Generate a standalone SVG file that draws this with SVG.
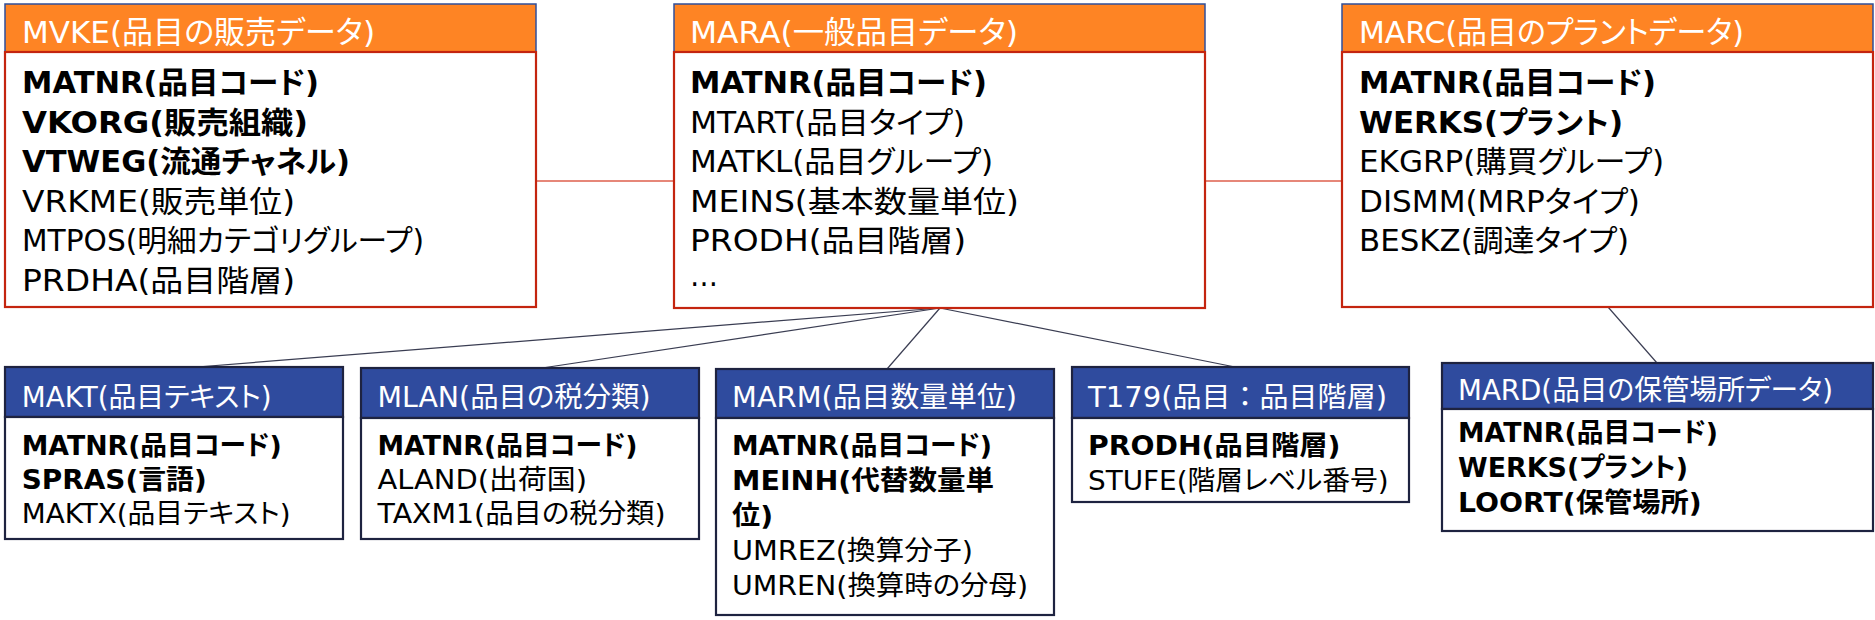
<svg xmlns="http://www.w3.org/2000/svg" width="1875" height="620" viewBox="0 0 1875 620">
<style>
text{font-family:"DejaVu Sans","Noto Sans CJK JP",sans-serif;font-feature-settings:"palt";}
.uh{fill:#FE8424;stroke:#2F4F9A;stroke-width:1.5;}
.ub{fill:#FFFFFF;stroke:#C4250F;stroke-width:2.2;}
.lh{fill:#2F4B9E;stroke:#1E2340;stroke-width:2.2;}
.lb{fill:#FFFFFF;stroke:#1E2340;stroke-width:2.2;}
.ht{fill:#FFFFFF;font-size:31px;}
.lht{fill:#FFFFFF;font-size:28px;}
.t{fill:#000000;font-size:30px;}
.lt{fill:#000000;font-size:27px;}
.b{font-weight:bold;}
.np{font-feature-settings:normal;}
.rc{stroke:#DE5F4C;stroke-width:1.5;fill:none;}
.dc{stroke:#3A3D52;stroke-width:1.2;fill:none;}
</style>
<g id="connectors">
<line class="rc" x1="536" y1="181" x2="674" y2="181"/>
<line class="rc" x1="1205" y1="181" x2="1342" y2="181"/>
<line class="dc" x1="940" y1="308" x2="197" y2="367"/>
<line class="dc" x1="940" y1="308" x2="542" y2="368"/>
<line class="dc" x1="940" y1="308" x2="887" y2="369"/>
<line class="dc" x1="940" y1="308" x2="1235" y2="367"/>
<line class="dc" x1="1608" y1="307" x2="1657" y2="363"/>
</g>
<g id="MVKE">
<rect class="uh" x="5" y="4" width="531" height="48"/>
<rect class="ub" x="5" y="52" width="531" height="255"/>
<text class="ht" x="22" y="43" textLength="353" lengthAdjust="spacingAndGlyphs">MVKE(品目の販売データ)</text>
<text class="t b" x="22" y="93" textLength="297" lengthAdjust="spacingAndGlyphs">MATNR(品目コード)</text>
<text class="t b" x="22" y="132.5" textLength="286" lengthAdjust="spacingAndGlyphs">VKORG(販売組織)</text>
<text class="t b" x="22" y="172" textLength="328" lengthAdjust="spacingAndGlyphs">VTWEG(流通チャネル)</text>
<text class="t" x="22" y="211.5" textLength="273" lengthAdjust="spacingAndGlyphs">VRKME(販売単位)</text>
<text class="t" x="22" y="251" textLength="402" lengthAdjust="spacingAndGlyphs">MTPOS(明細カテゴリグループ)</text>
<text class="t" x="22" y="290.5" textLength="273" lengthAdjust="spacingAndGlyphs">PRDHA(品目階層)</text>
</g>
<g id="MARA">
<rect class="uh" x="674" y="4" width="531" height="48"/>
<rect class="ub" x="674" y="52" width="531" height="256"/>
<text class="ht" x="690" y="43" textLength="328" lengthAdjust="spacingAndGlyphs">MARA(一般品目データ)</text>
<text class="t b" x="690" y="93" textLength="297" lengthAdjust="spacingAndGlyphs">MATNR(品目コード)</text>
<text class="t" x="690" y="132.5" textLength="275" lengthAdjust="spacingAndGlyphs">MTART(品目タイプ)</text>
<text class="t" x="690" y="172" textLength="303" lengthAdjust="spacingAndGlyphs">MATKL(品目グループ)</text>
<text class="t" x="690" y="211.5" textLength="329" lengthAdjust="spacingAndGlyphs">MEINS(基本数量単位)</text>
<text class="t" x="690" y="251" textLength="276" lengthAdjust="spacingAndGlyphs">PRODH(品目階層)</text>
<text class="t" x="690" y="286" textLength="28" lengthAdjust="spacingAndGlyphs">…</text>
</g>
<g id="MARC">
<rect class="uh" x="1342" y="4" width="531" height="48"/>
<rect class="ub" x="1342" y="52" width="531" height="255"/>
<text class="ht" x="1359" y="43" textLength="385" lengthAdjust="spacingAndGlyphs">MARC(品目のプラントデータ)</text>
<text class="t b" x="1359" y="93" textLength="297" lengthAdjust="spacingAndGlyphs">MATNR(品目コード)</text>
<text class="t b" x="1359" y="132.5" textLength="264" lengthAdjust="spacingAndGlyphs">WERKS(プラント)</text>
<text class="t" x="1359" y="172" textLength="305" lengthAdjust="spacingAndGlyphs">EKGRP(購買グループ)</text>
<text class="t" x="1359" y="211.5" textLength="281" lengthAdjust="spacingAndGlyphs">DISMM(MRPタイプ)</text>
<text class="t" x="1359" y="251" textLength="270" lengthAdjust="spacingAndGlyphs">BESKZ(調達タイプ)</text>
</g>
<g id="MAKT">
<rect class="lh" x="5" y="367" width="338" height="50"/>
<rect class="lb" x="5" y="417" width="338" height="122"/>
<text class="lht" x="21.7" y="406.5" textLength="250" lengthAdjust="spacingAndGlyphs">MAKT(品目テキスト)</text>
<text class="lt b" x="21.7" y="455" textLength="260" lengthAdjust="spacingAndGlyphs">MATNR(品目コード)</text>
<text class="lt b" x="21.7" y="489" textLength="185" lengthAdjust="spacingAndGlyphs">SPRAS(言語)</text>
<text class="lt" x="21.7" y="523" textLength="269" lengthAdjust="spacingAndGlyphs">MAKTX(品目テキスト)</text>
</g>
<g id="MLAN">
<rect class="lh" x="361" y="368" width="338" height="50"/>
<rect class="lb" x="361" y="418" width="338" height="121"/>
<text class="lht" x="377.5" y="406.5" textLength="273" lengthAdjust="spacingAndGlyphs">MLAN(品目の税分類)</text>
<text class="lt b" x="377.5" y="455" textLength="260" lengthAdjust="spacingAndGlyphs">MATNR(品目コード)</text>
<text class="lt" x="377.5" y="489" textLength="209.5" lengthAdjust="spacingAndGlyphs">ALAND(出荷国)</text>
<text class="lt" x="377.5" y="523" textLength="288" lengthAdjust="spacingAndGlyphs">TAXM1(品目の税分類)</text>
</g>
<g id="MARM">
<rect class="lh" x="716" y="369" width="338" height="49"/>
<rect class="lb" x="716" y="418" width="338" height="197"/>
<text class="lht" x="732" y="406.5" textLength="285" lengthAdjust="spacingAndGlyphs">MARM(品目数量単位)</text>
<text class="lt b" x="732" y="455" textLength="260" lengthAdjust="spacingAndGlyphs">MATNR(品目コード)</text>
<text class="lt b" x="732" y="490" textLength="262" lengthAdjust="spacingAndGlyphs">MEINH(代替数量単</text>
<text class="lt b" x="732" y="525" textLength="41" lengthAdjust="spacingAndGlyphs">位)</text>
<text class="lt" x="732" y="560" textLength="241" lengthAdjust="spacingAndGlyphs">UMREZ(換算分子)</text>
<text class="lt" x="732" y="595" textLength="296" lengthAdjust="spacingAndGlyphs">UMREN(換算時の分母)</text>
</g>
<g id="T179">
<rect class="lh" x="1072" y="367" width="337" height="51"/>
<rect class="lb" x="1072" y="418" width="337" height="84"/>
<text class="lht np" x="1088" y="406.5" textLength="299" lengthAdjust="spacingAndGlyphs">T179(品目：品目階層)</text>
<text class="lt b" x="1088" y="455" textLength="252.5" lengthAdjust="spacingAndGlyphs">PRODH(品目階層)</text>
<text class="lt" x="1088" y="490" textLength="300.7" lengthAdjust="spacingAndGlyphs">STUFE(階層レベル番号)</text>
</g>
<g id="MARD">
<rect class="lh" x="1442" y="363" width="431" height="46"/>
<rect class="lb" x="1442" y="409" width="431" height="122"/>
<text class="lht" x="1458" y="400" textLength="375" lengthAdjust="spacingAndGlyphs">MARD(品目の保管場所データ)</text>
<text class="lt b" x="1458" y="442" textLength="260" lengthAdjust="spacingAndGlyphs">MATNR(品目コード)</text>
<text class="lt b" x="1458" y="477" textLength="230" lengthAdjust="spacingAndGlyphs">WERKS(プラント)</text>
<text class="lt b" x="1458" y="512" textLength="243.7" lengthAdjust="spacingAndGlyphs">LOORT(保管場所)</text>
</g>
</svg>
